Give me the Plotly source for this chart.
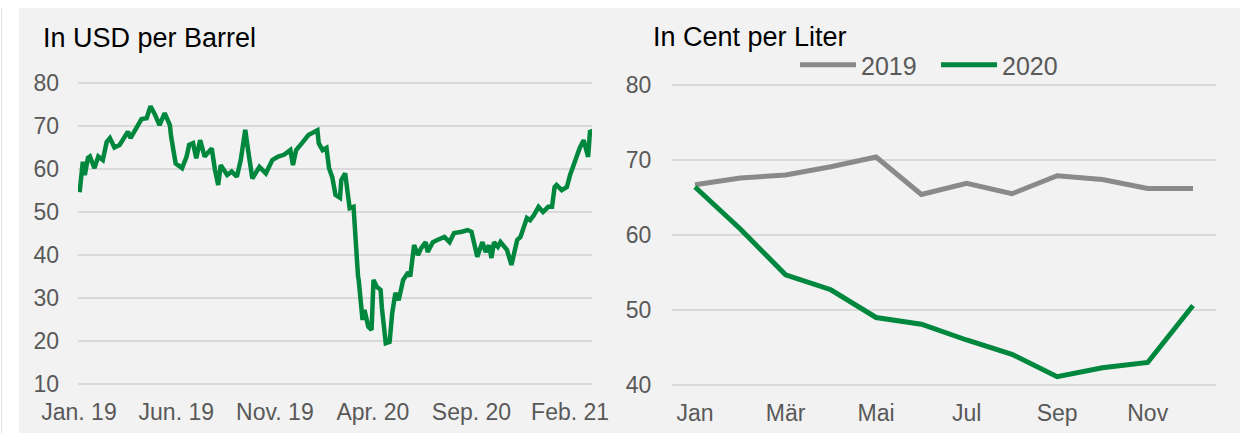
import plotly.graph_objects as go

# left panel: crude oil price (USD per barrel)
brent_dates = [
    "2019-01-02", "2019-01-04", "2019-01-07", "2019-01-10", "2019-01-15", "2019-01-18", "2019-01-25", "2019-01-31",
    "2019-02-07", "2019-02-13", "2019-02-18", "2019-02-25", "2019-03-05", "2019-03-13", "2019-03-18", "2019-03-22",
    "2019-03-29", "2019-04-08", "2019-04-16", "2019-04-22", "2019-04-29", "2019-05-06", "2019-05-14", "2019-05-22",
    "2019-05-24", "2019-05-31", "2019-06-10", "2019-06-17", "2019-06-21", "2019-06-27", "2019-07-02", "2019-07-08",
    "2019-07-15", "2019-07-19", "2019-07-26", "2019-07-31", "2019-08-05", "2019-08-09", "2019-08-19", "2019-08-26",
    "2019-09-03", "2019-09-09", "2019-09-16", "2019-09-20", "2019-09-27", "2019-10-08", "2019-10-18", "2019-10-28",
    "2019-11-06", "2019-11-15", "2019-11-25", "2019-11-29", "2019-12-04", "2019-12-13", "2019-12-23", "2020-01-06",
    "2020-01-08", "2020-01-14", "2020-01-20", "2020-01-24", "2020-01-29", "2020-02-03", "2020-02-10", "2020-02-12",
    "2020-02-18", "2020-02-25", "2020-03-02", "2020-03-09", "2020-03-10", "2020-03-16", "2020-03-19", "2020-03-25",
    "2020-03-30", "2020-04-02", "2020-04-07", "2020-04-13", "2020-04-15", "2020-04-21", "2020-04-27", "2020-05-01",
    "2020-05-06", "2020-05-11", "2020-05-18", "2020-05-26", "2020-05-29", "2020-06-04", "2020-06-10", "2020-06-15",
    "2020-06-22", "2020-06-25", "2020-07-03", "2020-07-10", "2020-07-21", "2020-07-29", "2020-08-05", "2020-08-17",
    "2020-08-26", "2020-09-01", "2020-09-08", "2020-09-10", "2020-09-18", "2020-09-23", "2020-09-28", "2020-10-02",
    "2020-10-06", "2020-10-12", "2020-10-16", "2020-10-26", "2020-11-02", "2020-11-06", "2020-11-11", "2020-11-16",
    "2020-11-23", "2020-11-26", "2020-12-01", "2020-12-07", "2020-12-14", "2020-12-21", "2020-12-29", "2021-01-04",
    "2021-01-08", "2021-01-11", "2021-01-19", "2021-01-27", "2021-02-01", "2021-02-09", "2021-02-16", "2021-02-22",
    "2021-03-01", "2021-03-04", "2021-03-08",
]
brent_usd = [
    54.6, 57.0, 61.7, 58.6, 62.6, 62.9, 60.2, 62.9,
    62.1, 66.3, 67.2, 65.0, 65.6, 67.5, 68.7, 67.2,
    69.1, 71.6, 71.8, 74.6, 72.6, 70.2, 73.0, 70.2,
    67.5, 61.3, 60.2, 62.9, 65.6, 66.0, 62.5, 66.7,
    62.9, 63.7, 64.8, 59.8, 56.3, 60.9, 58.6, 59.4,
    58.2, 62.1, 69.1, 64.8, 57.8, 60.5, 59.0, 62.1,
    62.9, 63.3, 64.4, 60.9, 64.4, 66.0, 67.9, 69.0,
    66.0, 64.4, 64.9, 60.2, 58.1, 54.0, 53.3, 57.4,
    59.0, 50.9, 51.2, 35.0, 34.2, 24.9, 27.2, 23.3,
    22.6, 34.2, 32.6, 31.9, 27.7, 19.5, 19.8, 26.5,
    31.2, 29.5, 34.2, 36.0, 35.0, 42.3, 40.0, 41.6,
    43.0, 40.7, 43.0, 43.5, 44.2, 43.0, 45.1, 45.4,
    45.8, 45.4, 40.5, 39.6, 43.0, 40.7, 42.3, 39.3,
    43.0, 41.9, 43.0, 41.2, 37.7, 40.7, 43.5, 44.2,
    47.4, 48.6, 48.1, 49.3, 51.2, 50.0, 51.2, 51.2,
    55.8, 56.3, 55.1, 55.8, 58.6, 62.0, 64.9, 66.7,
    62.8, 69.0, 68.3,
]
left_tickvals = ["2019-01-01", "2019-06-01", "2019-11-01", "2020-04-01", "2020-09-01", "2021-02-01"]
left_ticktext = ["Jan. 19", "Jun. 19", "Nov. 19", "Apr. 20", "Sep. 20", "Feb. 21"]

# right panel: heating oil (cent per liter)
months = ["Jan", "Feb", "Mär", "Apr", "Mai", "Jun", "Jul", "Aug", "Sep", "Okt", "Nov", "Dez"]
price_2019 = [66.7, 67.6, 68.0, 69.1, 70.4, 65.4, 66.9, 65.5, 67.9, 67.4, 66.2, 66.2]
price_2020 = [66.4, 60.8, 54.7, 52.7, 49.0, 48.1, 46.0, 44.1, 41.1, 42.3, 43.0, 50.6]
right_tickvals = ["Jan", "Mär", "Mai", "Jul", "Sep", "Nov"]

GREEN = "#00873E"
GREY = "#8A8A8A"
BG = "#F2F2F2"
GRID = "#D9D9D9"
TICK_COLOR = "#595959"
FONT = "Liberation Sans, Arial, sans-serif"

W, H = 1240, 433


def px_x(a, b):
    return [a / W, b / W]


def px_y(top, bottom):
    return [1 - bottom / H, 1 - top / H]


fig = go.Figure()

fig.add_trace(go.Scatter(
    x=brent_dates, y=brent_usd, mode="lines",
    line=dict(color=GREEN, width=4.5),
    xaxis="x", yaxis="y", showlegend=False,
))
fig.add_trace(go.Scatter(
    x=months, y=price_2019, mode="lines", name="2019",
    line=dict(color=GREY, width=5),
    xaxis="x2", yaxis="y2",
))
fig.add_trace(go.Scatter(
    x=months, y=price_2020, mode="lines", name="2020",
    line=dict(color=GREEN, width=5),
    xaxis="x2", yaxis="y2",
))

tick_font = dict(family=FONT, size=23, color=TICK_COLOR)

fig.update_layout(
    width=W, height=H,
    margin=dict(l=0, r=0, t=0, b=0),
    paper_bgcolor="white",
    plot_bgcolor=BG,
    font=dict(family=FONT),
    xaxis=dict(
        domain=px_x(78, 592),
        type="date",
        range=["2018-12-30 12:00", "2021-03-07"],
        tickvals=left_tickvals, ticktext=left_ticktext,
        tickfont=tick_font, showgrid=False, zeroline=False,
        ticks="", ticklabelstandoff=10, automargin=False,
        anchor="y",
    ),
    yaxis=dict(
        domain=px_y(80.85, 386.15),
        range=[9.5, 80.5],
        tickvals=[10, 20, 30, 40, 50, 60, 70, 80],
        tickfont=tick_font, gridcolor=GRID, gridwidth=2,
        zeroline=False, ticks="", ticklabelstandoff=18, automargin=False,
        anchor="x",
    ),
    xaxis2=dict(
        domain=px_x(672.4, 1215.6),
        type="category",
        categoryorder="array", categoryarray=months,
        range=[-0.5, 11.5],
        tickvals=right_tickvals,
        tickfont=tick_font, showgrid=False, zeroline=False,
        ticks="", ticklabelstandoff=10, automargin=False,
        anchor="y2",
    ),
    yaxis2=dict(
        domain=px_y(82.75, 387.25),
        range=[39.7, 80.3],
        tickvals=[40, 50, 60, 70, 80],
        tickfont=tick_font, gridcolor=GRID, gridwidth=2,
        zeroline=False, ticks="", ticklabelstandoff=20, automargin=False,
        anchor="x2",
    ),
    legend=dict(
        orientation="h",
        x=795 / W, y=1 - 65 / H, xanchor="left", yanchor="middle",
        bgcolor="rgba(0,0,0,0)",
        font=dict(family=FONT, size=25, color=TICK_COLOR),
        itemwidth=56, entrywidth=70,
    ),
    shapes=[
        dict(type="rect", xref="paper", yref="paper",
             x0=19 / W, x1=1, y0=0, y1=1 - 8 / H,
             fillcolor=BG, line=dict(width=0), layer="below"),
        dict(type="line", xref="paper", yref="paper",
             x0=1.5 / W, x1=1.5 / W, y0=0, y1=1 - 8 / H,
             line=dict(color="#E0E0E0", width=1), layer="below"),
    ],
    annotations=[
        dict(text="In USD per Barrel", xref="paper", yref="paper",
             x=41 / W, y=1 - 38 / H, xanchor="left", yanchor="middle",
             showarrow=False, font=dict(family=FONT, size=27, color="black")),
        dict(text="In Cent per Liter", xref="paper", yref="paper",
             x=651 / W, y=1 - 37 / H, xanchor="left", yanchor="middle",
             showarrow=False, font=dict(family=FONT, size=27, color="black")),
    ],
)

fig.write_html(
    "out.html",
    config={"displayModeBar": False},
    post_script="document.body.style.margin='0';document.body.style.overflow='hidden';",
)
